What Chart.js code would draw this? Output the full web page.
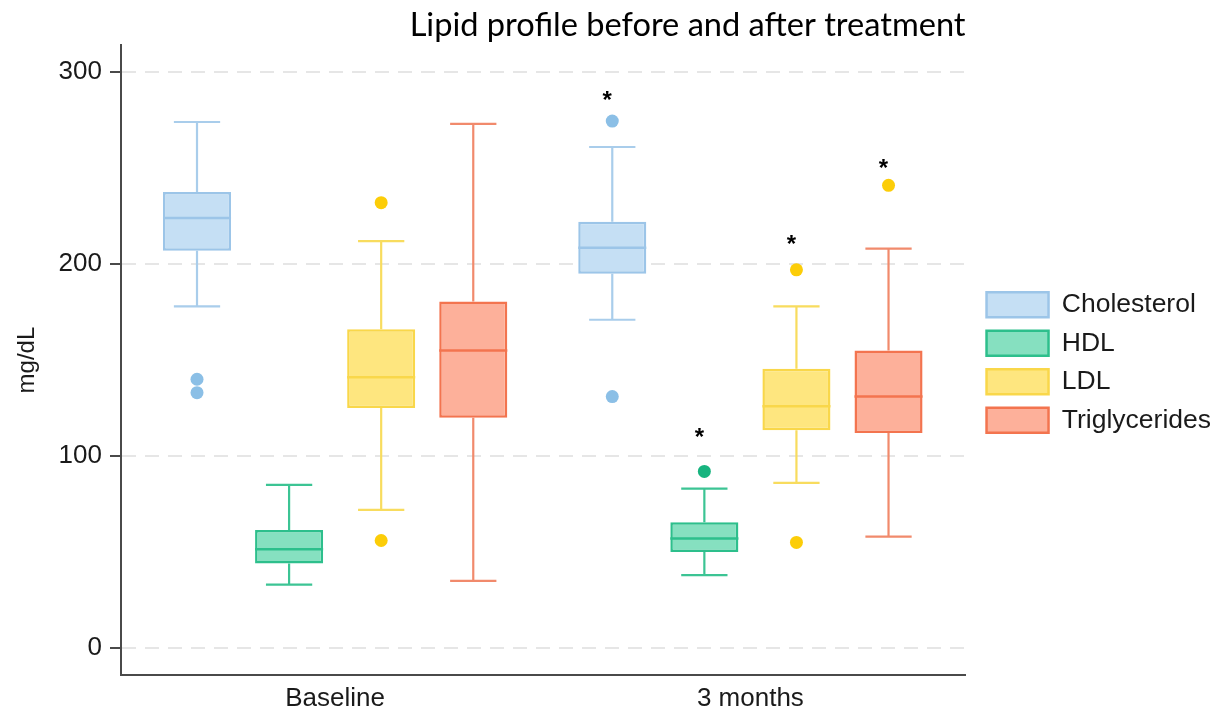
<!DOCTYPE html>
<html>
<head>
<meta charset="utf-8">
<title>Lipid profile before and after treatment</title>
<script src="https://cdn.jsdelivr.net/npm/chart.js@4.4.1/dist/chart.umd.min.js"></script>
<style>
  html, body { margin: 0; padding: 0; background: #ffffff; }
  #c { display: block; }
</style>
</head>
<body>
<canvas id="c" width="1222" height="711"></canvas>
<script>
// ---- data (mg/dL) ----
const groups = ['Baseline', '3 months'];
const lipids = ['Cholesterol', 'HDL', 'LDL', 'Triglycerides'];
const yTicks = [0, 100, 200, 300];

// five-number summaries per group: [lower whisker, Q1, median, Q3, upper whisker]
const cholesterol   = [[178, 207, 224, 237.5, 274], [171, 195, 208.5, 222, 261]];
const hdl           = [[33, 44, 51.5, 61.5, 85],    [38, 50, 57, 65.5, 83]];
const ldl           = [[72, 125, 141, 166, 212],    [86, 113.5, 126, 145.5, 178]];
const triglycerides = [[35, 120, 155, 180.5, 273],  [58, 112, 131, 155, 208]];

// outlying observations per group
const cholesterolOut   = [[140, 133], [274.5, 131]];
const hdlOut           = [[], [92]];
const ldlOut           = [[232, 56], [197, 55]];
const triglyceridesOut = [[], [241]];

// significance asterisks after 3 months, one per lipid (level on the mg/dL axis)
const starLevels = [288.5, 113, 213.5, 253];

// ---- styling ----
const stats = [cholesterol, hdl, ldl, triglycerides];
const outliers = [cholesterolOut, hdlOut, ldlOut, triglyceridesOut];
const palette = [
  { fill: '#c5dff4', edge: '#9cc5e8', whisker: '#a9cdeb', dot: '#8bbfe6' },
  { fill: '#86e0c0', edge: '#2dbf8c', whisker: '#3cc494', dot: '#17b47f' },
  { fill: '#fee67f', edge: '#f9d74a', whisker: '#f8dc5e', dot: '#fccd08' },
  { fill: '#fdb09a', edge: '#f3744f', whisker: '#f18a6c', dot: '#fccd08' }
];
const SANS = 'Liberation Sans, Arial, Helvetica, sans-serif';
const INK = '#1a1a1a';
const AXIS = '#4a4a4a';

// whiskers, medians, outliers and asterisks around the floating IQR bars
const boxPlot = {
  id: 'boxPlot',
  beforeDatasetsDraw(chart) {
    const { ctx } = chart;
    const y = chart.scales.y;
    chart.data.datasets.forEach((ds, i) => {
      chart.getDatasetMeta(i).data.forEach((bar, j) => {
        const s = stats[i][j];
        const cap = bar.width * 0.34;
        ctx.save();
        ctx.strokeStyle = palette[i].whisker;
        ctx.lineWidth = 2.2;
        ctx.beginPath();
        ctx.moveTo(bar.x, y.getPixelForValue(s[1]));
        ctx.lineTo(bar.x, y.getPixelForValue(s[0]));
        ctx.moveTo(bar.x - cap, y.getPixelForValue(s[0]));
        ctx.lineTo(bar.x + cap, y.getPixelForValue(s[0]));
        ctx.moveTo(bar.x, y.getPixelForValue(s[3]));
        ctx.lineTo(bar.x, y.getPixelForValue(s[4]));
        ctx.moveTo(bar.x - cap, y.getPixelForValue(s[4]));
        ctx.lineTo(bar.x + cap, y.getPixelForValue(s[4]));
        ctx.stroke();
        ctx.restore();
      });
    });
  },
  afterDatasetsDraw(chart) {
    const { ctx } = chart;
    const y = chart.scales.y;
    chart.data.datasets.forEach((ds, i) => {
      chart.getDatasetMeta(i).data.forEach((bar, j) => {
        const s = stats[i][j];
        const half = bar.width / 2;
        ctx.save();
        ctx.strokeStyle = palette[i].edge;
        ctx.lineWidth = 2.5;
        ctx.beginPath();
        ctx.moveTo(bar.x - half, y.getPixelForValue(s[2]));
        ctx.lineTo(bar.x + half, y.getPixelForValue(s[2]));
        ctx.stroke();
        ctx.fillStyle = palette[i].dot;
        outliers[i][j].forEach(v => {
          ctx.beginPath();
          ctx.arc(bar.x, y.getPixelForValue(v), 6.5, 0, Math.PI * 2);
          ctx.fill();
        });
        if (j === 1 && starLevels[i] != null) {
          ctx.fillStyle = '#000000';
          ctx.font = 'bold 24px ' + SANS;
          ctx.textAlign = 'center';
          ctx.textBaseline = 'alphabetic';
          ctx.fillText('*', bar.x - 5, y.getPixelForValue(starLevels[i]) + 14);
        }
        ctx.restore();
      });
    });
  }
};

const datasets = lipids.map((name, i) => ({
  label: name,
  data: groups.map((g, j) => ({ x: j + 1, y: [stats[i][j][1], stats[i][j][3]] })),
  backgroundColor: palette[i].fill,
  borderColor: palette[i].edge,
  borderWidth: 2.5,
  borderSkipped: false,
  categoryPercentage: 0.887,
  barPercentage: 0.739
}));

new Chart(document.getElementById('c'), {
  type: 'bar',
  data: { datasets },
  options: {
    responsive: false,
    devicePixelRatio: 1,
    animation: false,
    layout: { padding: { left: 0, right: 1, top: 0, bottom: 0 } },
    plugins: {
      title: {
        display: true,
        text: 'Lipid profile before and after treatment',
        align: 'end',
        fullSize: false,
        color: '#000000',
        font: { family: 'Lato, Carlito, sans-serif', size: 32.6, weight: 'normal' },
        padding: { top: 6, bottom: 0 }
      },
      legend: {
        position: 'right',
        align: 'center',
        maxWidth: 320,
        title: { display: true, text: '', font: { size: 1 }, padding: { top: 13, bottom: 0 } },
        labels: {
          font: { family: SANS, size: 26.5 },
          color: INK,
          boxWidth: 62,
          boxHeight: 25,
          padding: 12
        }
      },
      tooltip: { enabled: false }
    },
    scales: {
      x: {
        type: 'linear',
        offset: false,
        min: 1 - 214 / 415,
        max: 2 + 215 / 415,
        afterBuildTicks: s => { s.ticks = groups.map((g, j) => ({ value: j + 1 })); },
        ticks: {
          callback: v => groups[Math.round(v) - 1] || '',
          font: { family: SANS, size: 26 },
          color: INK,
          padding: 8,
          maxRotation: 0,
          autoSkip: false
        },
        grid: { display: false, drawTicks: false },
        border: { display: true, color: AXIS, width: 2 },
        afterFit: s => { s.height = 36; }
      },
      y: {
        min: -14.06,
        max: 314.06,
        afterBuildTicks: s => { s.ticks = yTicks.map(v => ({ value: v })); },
        ticks: {
          font: { family: SANS, size: 26 },
          color: INK,
          padding: 8
        },
        grid: {
          color: '#e6e6e6',
          lineWidth: 2,
          drawTicks: true,
          tickLength: 11,
          tickColor: AXIS,
          tickWidth: 2,
          tickBorderDash: []
        },
        border: { display: true, color: AXIS, width: 2, dash: [14, 9] },
        title: {
          display: true,
          text: 'mg/dL',
          font: { family: SANS, size: 24 },
          color: INK,
          padding: { top: 13, bottom: 0 }
        },
        afterFit: s => { s.width = 121; }
      },
      gap: {
        type: 'linear',
        position: 'right',
        display: true,
        grid: { display: false, drawTicks: false },
        border: { display: false },
        ticks: { display: false },
        afterFit: s => { s.width = 9; }
      }
    }
  },
  plugins: [boxPlot]
});
</script>
</body>
</html>
